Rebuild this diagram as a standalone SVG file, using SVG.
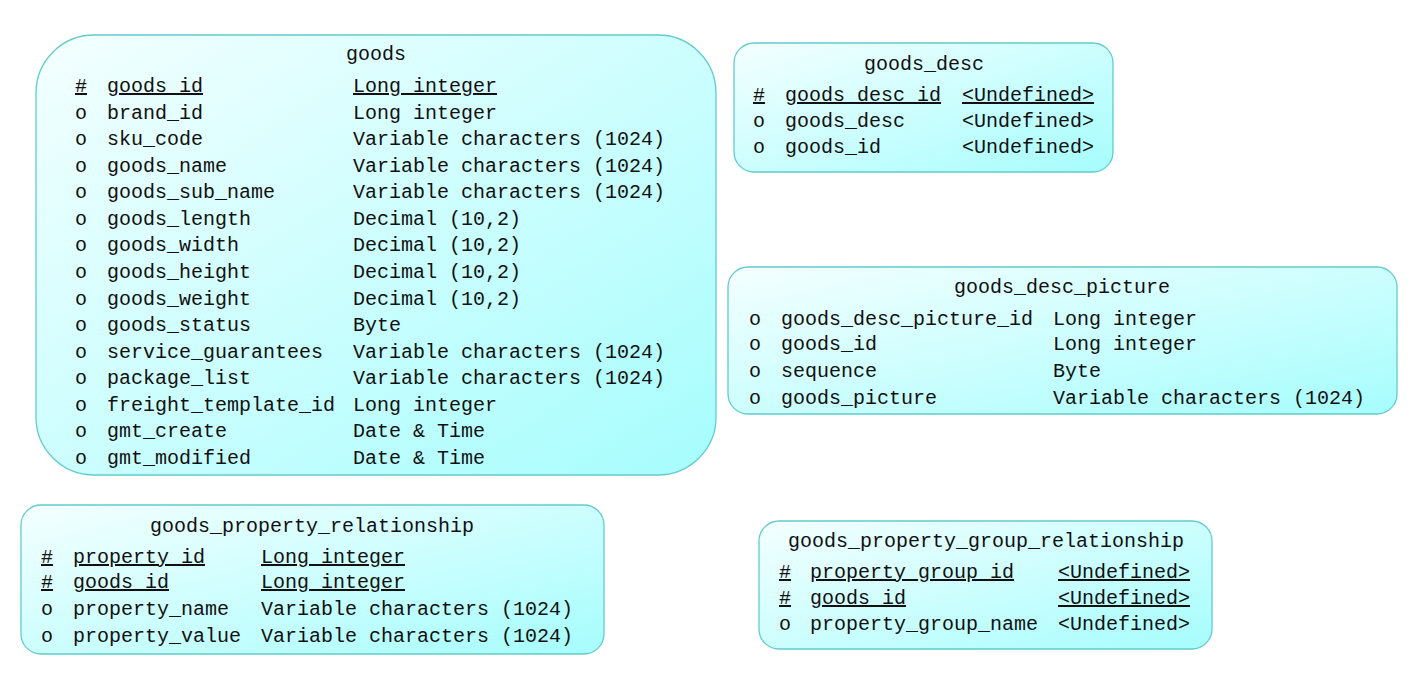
<svg xmlns="http://www.w3.org/2000/svg" width="1421" height="683" viewBox="0 0 1421 683">
<defs>
<linearGradient id="fill" x1="0" y1="0" x2="1" y2="1">
<stop offset="0" stop-color="#f4ffff"/>
<stop offset="1" stop-color="#a6fdfd"/>
</linearGradient>
<style>
.box{fill:url(#fill);stroke:#62cccc;stroke-width:1.3}
text{font-family:"Liberation Mono","DejaVu Sans Mono",monospace;font-size:20px;fill:#111111}
.t{text-anchor:middle}
.u{text-decoration:underline}
</style>
</defs>
<rect width="1421" height="683" fill="#ffffff"/>
<g id="connectors"></g>

<g id="goods">
<rect class="box" x="36" y="35" width="680" height="440" rx="58" ry="58"/>
<text class="t" x="376" y="60">goods</text>
<text class="u" x="75" y="92">#</text><text class="u" x="107" y="92">goods_id</text><text class="u" x="353" y="92">Long integer</text>
<text x="75" y="119">o</text><text x="107" y="119">brand_id</text><text x="353" y="119">Long integer</text>
<text x="75" y="145">o</text><text x="107" y="145">sku_code</text><text x="353" y="145">Variable characters (1024)</text>
<text x="75" y="172">o</text><text x="107" y="172">goods_name</text><text x="353" y="172">Variable characters (1024)</text>
<text x="75" y="198">o</text><text x="107" y="198">goods_sub_name</text><text x="353" y="198">Variable characters (1024)</text>
<text x="75" y="225">o</text><text x="107" y="225">goods_length</text><text x="353" y="225">Decimal (10,2)</text>
<text x="75" y="251">o</text><text x="107" y="251">goods_width</text><text x="353" y="251">Decimal (10,2)</text>
<text x="75" y="278">o</text><text x="107" y="278">goods_height</text><text x="353" y="278">Decimal (10,2)</text>
<text x="75" y="305">o</text><text x="107" y="305">goods_weight</text><text x="353" y="305">Decimal (10,2)</text>
<text x="75" y="331">o</text><text x="107" y="331">goods_status</text><text x="353" y="331">Byte</text>
<text x="75" y="358">o</text><text x="107" y="358">service_guarantees</text><text x="353" y="358">Variable characters (1024)</text>
<text x="75" y="384">o</text><text x="107" y="384">package_list</text><text x="353" y="384">Variable characters (1024)</text>
<text x="75" y="411">o</text><text x="107" y="411">freight_template_id</text><text x="353" y="411">Long integer</text>
<text x="75" y="437">o</text><text x="107" y="437">gmt_create</text><text x="353" y="437">Date &amp; Time</text>
<text x="75" y="464">o</text><text x="107" y="464">gmt_modified</text><text x="353" y="464">Date &amp; Time</text>
</g>

<g id="goods_desc">
<rect class="box" x="734" y="43" width="379" height="129" rx="20" ry="20"/>
<text class="t" x="924" y="70">goods_desc</text>
<text class="u" x="753" y="101">#</text><text class="u" x="785" y="101">goods_desc_id</text><text class="u" x="962" y="101">&lt;Undefined&gt;</text>
<text x="753" y="127">o</text><text x="785" y="127">goods_desc</text><text x="962" y="127">&lt;Undefined&gt;</text>
<text x="753" y="153">o</text><text x="785" y="153">goods_id</text><text x="962" y="153">&lt;Undefined&gt;</text>
</g>

<g id="goods_desc_picture">
<rect class="box" x="728" y="267" width="669" height="147" rx="20" ry="20"/>
<text class="t" x="1062" y="293">goods_desc_picture</text>
<text x="749" y="325">o</text><text x="781" y="325">goods_desc_picture_id</text><text x="1053" y="325">Long integer</text>
<text x="749" y="350">o</text><text x="781" y="350">goods_id</text><text x="1053" y="350">Long integer</text>
<text x="749" y="377">o</text><text x="781" y="377">sequence</text><text x="1053" y="377">Byte</text>
<text x="749" y="404">o</text><text x="781" y="404">goods_picture</text><text x="1053" y="404">Variable characters (1024)</text>
</g>

<g id="goods_property_relationship">
<rect class="box" x="21" y="505" width="583" height="149" rx="20" ry="20"/>
<text class="t" x="312" y="532">goods_property_relationship</text>
<text class="u" x="41" y="563">#</text><text class="u" x="73" y="563">property_id</text><text class="u" x="261" y="563">Long integer</text>
<text class="u" x="41" y="588">#</text><text class="u" x="73" y="588">goods_id</text><text class="u" x="261" y="588">Long integer</text>
<text x="41" y="615">o</text><text x="73" y="615">property_name</text><text x="261" y="615">Variable characters (1024)</text>
<text x="41" y="642">o</text><text x="73" y="642">property_value</text><text x="261" y="642">Variable characters (1024)</text>
</g>

<g id="goods_property_group_relationship">
<rect class="box" x="759" y="521" width="453" height="128" rx="20" ry="20"/>
<text class="t" x="986" y="547">goods_property_group_relationship</text>
<text class="u" x="779" y="578">#</text><text class="u" x="810" y="578">property_group_id</text><text class="u" x="1058" y="578">&lt;Undefined&gt;</text>
<text class="u" x="779" y="604">#</text><text class="u" x="810" y="604">goods_id</text><text class="u" x="1058" y="604">&lt;Undefined&gt;</text>
<text x="779" y="630">o</text><text x="810" y="630">property_group_name</text><text x="1058" y="630">&lt;Undefined&gt;</text>
</g>
</svg>
